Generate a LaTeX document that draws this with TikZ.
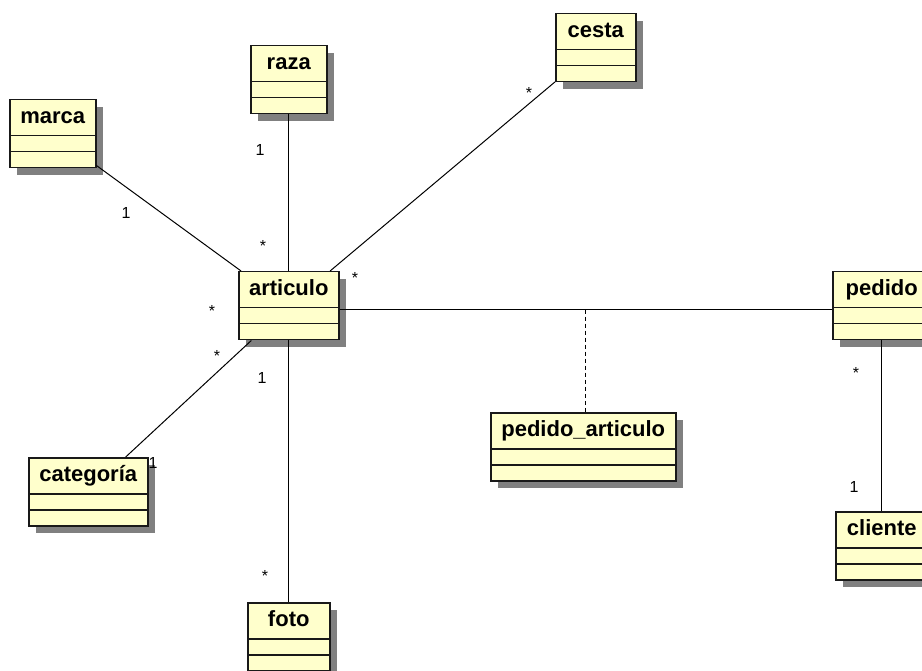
\documentclass[tikz,border=0pt]{standalone}
\usepackage{fontspec}
\setmainfont{Liberation Sans}
\usepackage{tikz}
\usetikzlibrary{shadows,positioning}

\definecolor{classfill}{RGB}{255,255,204}

\begin{document}
\begin{tikzpicture}
          [x=1pt,y=-1pt,
            clase/.style={draw=black!90,line width=1.5pt,fill=classfill,
              anchor=north west,inner sep=0pt,minimum height=68pt,
              text height=24pt,text depth=44pt,
              font=\fontsize{22}{24}\selectfont\bfseries,
              drop shadow={shadow xshift=7pt,shadow yshift=-7pt,fill=black!50,opacity=1},
              path picture={
                \draw[line width=1.5pt,black!90]
                  ([yshift=-36pt]path picture bounding box.north west) --
                  ([yshift=-36pt]path picture bounding box.north east)
                  ([yshift=-52pt]path picture bounding box.north west) --
                  ([yshift=-52pt]path picture bounding box.north east);}},
            mult/.style={inner sep=0pt,font=\fontsize{16}{17}\selectfont},
            asoc/.style={line width=1pt}]
          \useasboundingbox (0,0) rectangle (922,671);
          % clases
          \node[clase,minimum width=86pt] (marca) at (9,99) {marca};
          \node[clase,minimum width=76pt] (raza) at (250,45) {raza};
          \node[clase,minimum width=80pt] (cesta) at (555,13) {cesta};
          \node[clase,minimum width=100pt] (articulo) at (238,271) {articulo};
          \node[clase,minimum width=98pt] (pedido) at (832,271) {pedido};
          \node[clase,minimum width=185pt] (pedart) at (490,412) {pedido\_articulo};
          \node[clase,minimum width=119pt] (categoria) at (28,457) {categoría};
          \node[clase,minimum width=92pt] (cliente) at (835,511) {cliente};
          \node[clase,minimum width=82pt] (foto) at (247,602) {foto};
          % asociaciones
          \foreach \from/\to in {marca/articulo,raza/articulo,cesta/articulo,
                                 categoria/articulo,articulo/foto,pedido/cliente}
          \draw[asoc] (\from) -- (\to);
          \draw[asoc] ([yshift=-4pt]articulo.east) -- coordinate (clasoc) ([yshift=-4pt]pedido.west);
          \draw[asoc,dash pattern=on 4pt off 3pt] (clasoc) -- (clasoc |- pedart.north);
          % multiplicidades
          \node[mult] (m1) at (126,213) {1};
          \node[mult] (m2) at (212,311) {*};
          \node[mult] (m3) at (260,150) {1};
          \node[mult] (m4) at (263,246) {*};
          \node[mult] (m5) at (529,93) {*};
          \node[mult] (m6) at (355,278) {*};
          \node[mult] (m7) at (217,356) {*};
          \node[mult] (m8) at (153,463) {1};
          \node[mult] (m9) at (262,378) {1};
          \node[mult] (m10) at (265,576) {*};
          \node[mult] (m11) at (856,373) {*};
          \node[mult] (m12) at (854,487) {1};
        \end{tikzpicture}
\end{document}
